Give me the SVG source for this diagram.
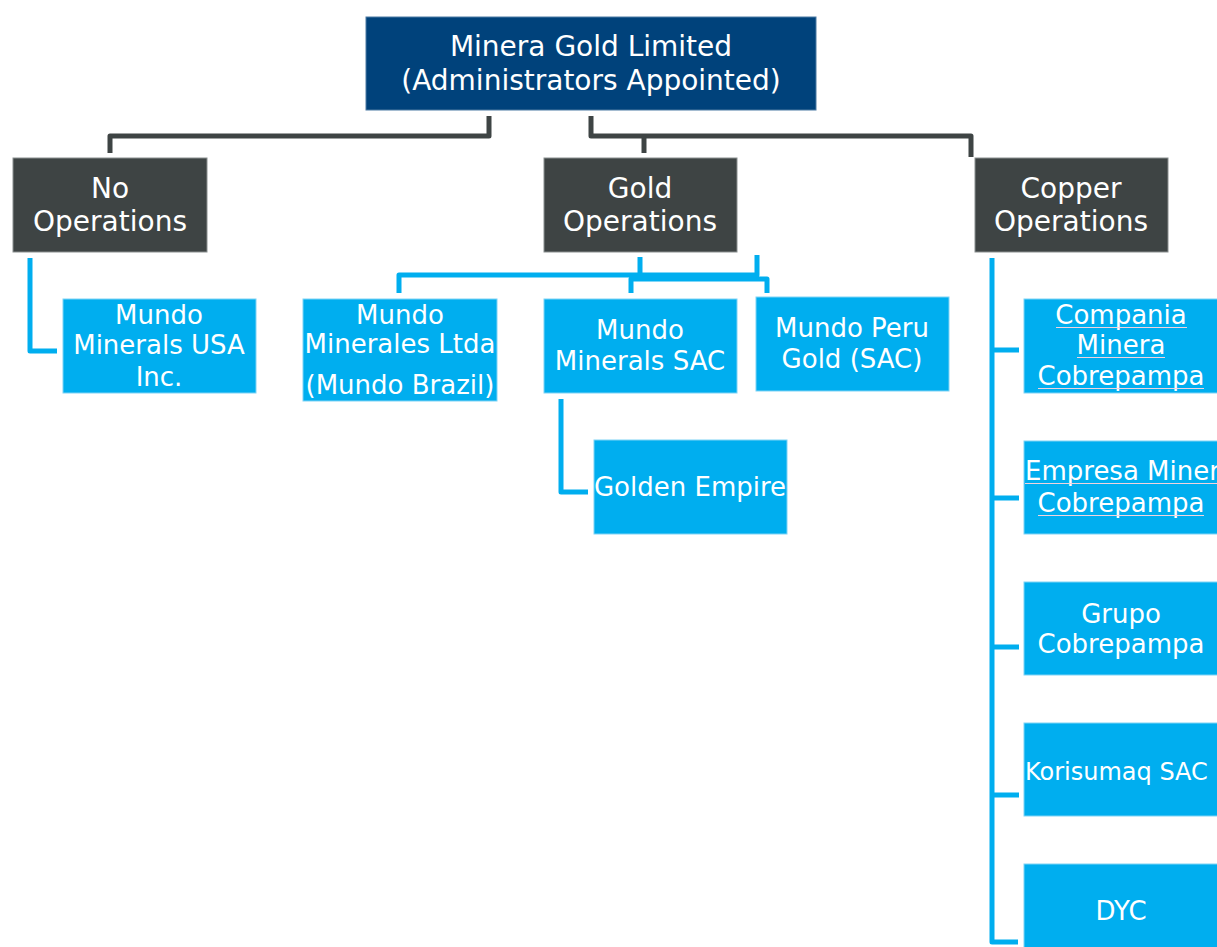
<svg xmlns="http://www.w3.org/2000/svg" width="1217" height="947" viewBox="0 0 1217 947">
<style>
.top{fill:#00427B;stroke:#4d7aa3;stroke-width:1}
.hdr{fill:#3E4444;stroke:#8a8f8f;stroke-width:1}
.box{fill:#00AEEF;stroke:#7fd3f5;stroke-width:1}
text{font-family:"DejaVu Sans",Verdana,sans-serif;fill:#ffffff}
.t1{font-size:28px;text-anchor:middle}
.t2{font-size:26px;text-anchor:middle}
.ts{font-size:26px;text-anchor:start}
.ul{stroke:#f2d3de;stroke-width:1;fill:none}
.dk{fill:none;stroke:#3E4444;stroke-width:5;stroke-linejoin:round}
.bl{fill:none;stroke:#00AEEF;stroke-width:5;stroke-linejoin:round}
</style>
<g id="connectors">
<path class="dk" d="M489,116 V136 H110 V153"/>
<path class="dk" d="M591,116 V136 H971 V157"/>
<path class="dk" d="M644,136 V153"/>
<path class="bl" d="M640,257 V275 H399 V293"/>
<path class="bl" d="M757,255 V275 H640"/>
<path class="bl" d="M631,293 V279 H767 V293"/>
<path class="bl" d="M30,258 V351 H57"/>
<path class="bl" d="M561,399 V492 H588"/>
<path class="bl" d="M992,258 V942 H1018"/>
<path class="bl" d="M992,350 H1019 M992,498 H1019 M992,647 H1019 M992,795 H1019"/>
</g>
<g id="minera-gold">
<rect class="top" x="366" y="17" width="450" height="93"/>
<text class="t1" x="591" y="56">Minera Gold Limited</text>
<text class="t1" x="591" y="90">(Administrators Appointed)</text>
</g>
<g id="no-operations">
<rect class="hdr" x="13" y="158" width="194" height="94"/>
<text class="t1" x="110" y="198">No</text>
<text class="t1" x="110" y="231">Operations</text>
</g>
<g id="gold-operations">
<rect class="hdr" x="544" y="158" width="193" height="94"/>
<text class="t1" x="640" y="198">Gold</text>
<text class="t1" x="640" y="231">Operations</text>
</g>
<g id="copper-operations">
<rect class="hdr" x="975" y="158" width="193" height="94"/>
<text class="t1" x="1071" y="198">Copper</text>
<text class="t1" x="1071" y="231">Operations</text>
</g>
<g id="mundo-usa">
<rect class="box" x="63" y="299" width="193" height="94"/>
<text class="t2" x="159" y="324">Mundo</text>
<text class="t2" x="159" y="354">Minerals USA</text>
<text class="t2" x="159" y="386">Inc.</text>
</g>
<g id="mundo-brazil">
<rect class="box" x="303" y="299" width="194" height="102"/>
<text class="t2" x="400" y="324">Mundo</text>
<text class="t2" x="400" y="353">Minerales Ltda</text>
<text class="t2" x="400" y="394">(Mundo Brazil)</text>
</g>
<g id="mundo-sac">
<rect class="box" x="544" y="299" width="193" height="94"/>
<text class="t2" x="640" y="339">Mundo</text>
<text class="t2" x="640" y="370">Minerals SAC</text>
</g>
<g id="mundo-peru">
<rect class="box" x="756" y="297" width="193" height="94"/>
<text class="t2" x="852" y="337">Mundo Peru</text>
<text class="t2" x="852" y="368">Gold (SAC)</text>
</g>
<g id="golden-empire">
<rect class="box" x="594" y="440" width="193" height="94"/>
<text class="t2" x="690" y="496">Golden Empire</text>
</g>
<g id="compania">
<rect class="box" x="1024" y="299" width="196" height="94"/>
<text class="t2" x="1121" y="324">Compania</text>
<text class="t2" x="1121" y="354">Minera</text>
<text class="t2" x="1121" y="385">Cobrepampa</text>
<path class="ul" d="M1056,327.5 H1187 M1077,357.5 H1165 M1038,388.5 H1204"/>
</g>
<g id="empresa">
<rect class="box" x="1024" y="441" width="196" height="93"/>
<text class="ts" x="1025" y="480">Empresa Minera</text>
<text class="t2" x="1121" y="512">Cobrepampa</text>
<path class="ul" d="M1025,483.5 H1217 M1038,515.5 H1204"/>
</g>
<g id="grupo">
<rect class="box" x="1024" y="582" width="196" height="93"/>
<text class="t2" x="1121" y="623">Grupo</text>
<text class="t2" x="1121" y="653">Cobrepampa</text>
</g>
<g id="korisumaq">
<rect class="box" x="1024" y="723" width="196" height="93"/>
<text class="ts" x="1025" y="780" style="font-size:24px">Korisumaq SAC</text>
</g>
<g id="dyc">
<rect class="box" x="1024" y="864" width="196" height="93"/>
<text class="t2" x="1121" y="920">DYC</text>
</g>
</svg>
